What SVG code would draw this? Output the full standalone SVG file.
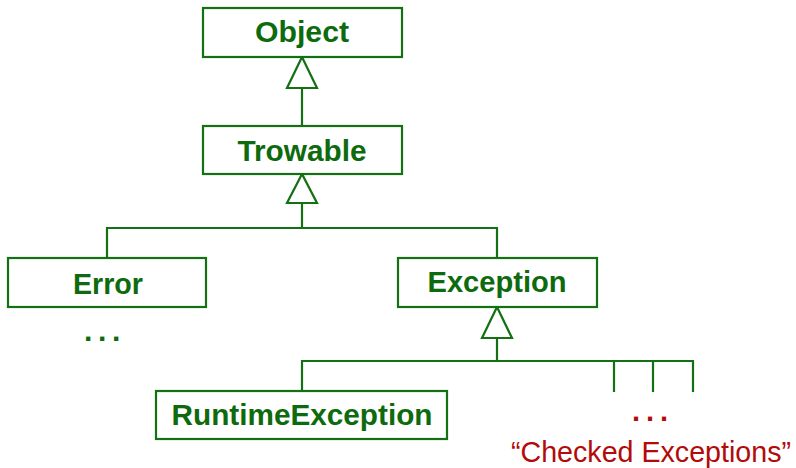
<svg xmlns="http://www.w3.org/2000/svg" width="796" height="468" viewBox="0 0 796 468">
<style>
.box{fill:#fff;stroke:#137013;stroke-width:2.2}
.ln{fill:none;stroke:#137013;stroke-width:2.2}
.tri{fill:#fff;stroke:#137013;stroke-width:2.2;stroke-linejoin:miter}
.lbl{font-family:"Liberation Sans","DejaVu Sans",sans-serif;font-weight:bold;font-size:29px;fill:#0d6a0d;text-anchor:middle}
.dots{font-family:"Liberation Sans",sans-serif;font-weight:bold;font-size:30px;fill:#0d6a0d}
.red{font-family:"Liberation Sans","DejaVu Sans",sans-serif;font-size:29px;fill:#b30a0a}
</style>
<rect width="796" height="468" fill="#fff"/>
<g id="connectors">
<line class="ln" x1="302" y1="88" x2="302" y2="126"/>
<polygon class="tri" points="302,57 287,88 317,88"/>
<polyline class="ln" points="107,258 107,228 497,228 497,258"/>
<line class="ln" x1="302" y1="203" x2="302" y2="228"/>
<polygon class="tri" points="302,174 287,203 317,203"/>
<polyline class="ln" points="302,391 302,361 693,361 693,392"/>
<line class="ln" x1="497" y1="338" x2="497" y2="361"/>
<polygon class="tri" points="497,307 482,338 512,338"/>
<line class="ln" x1="614" y1="361" x2="614" y2="392"/>
<line class="ln" x1="653" y1="361" x2="653" y2="392"/>
</g>
<g id="object">
<rect class="box" x="203" y="8" width="199" height="49"/>
<text class="lbl" x="302" y="42" textLength="94" lengthAdjust="spacingAndGlyphs">Object</text>
</g>
<g id="trowable">
<rect class="box" x="203" y="126" width="199" height="48"/>
<text class="lbl" x="302" y="161" textLength="129" lengthAdjust="spacingAndGlyphs">Trowable</text>
</g>
<g id="error">
<rect class="box" x="8" y="258" width="198" height="49"/>
<text class="lbl" x="108" y="294" textLength="70" lengthAdjust="spacingAndGlyphs">Error</text>
<text class="dots" x="84 98 112" y="341">...</text>
</g>
<g id="exception">
<rect class="box" x="398" y="258" width="199" height="49"/>
<text class="lbl" x="497" y="292" textLength="139" lengthAdjust="spacingAndGlyphs">Exception</text>
</g>
<g id="runtimeexception">
<rect class="box" x="156" y="391" width="291" height="48"/>
<text class="lbl" x="302" y="425" textLength="261" lengthAdjust="spacingAndGlyphs">RuntimeException</text>
</g>
<g id="checked">
<text class="red" x="632 646 660" y="421" font-weight="bold">...</text>
<text class="red" x="511" y="462" textLength="280" lengthAdjust="spacingAndGlyphs">“Checked Exceptions”</text>
</g>
</svg>
